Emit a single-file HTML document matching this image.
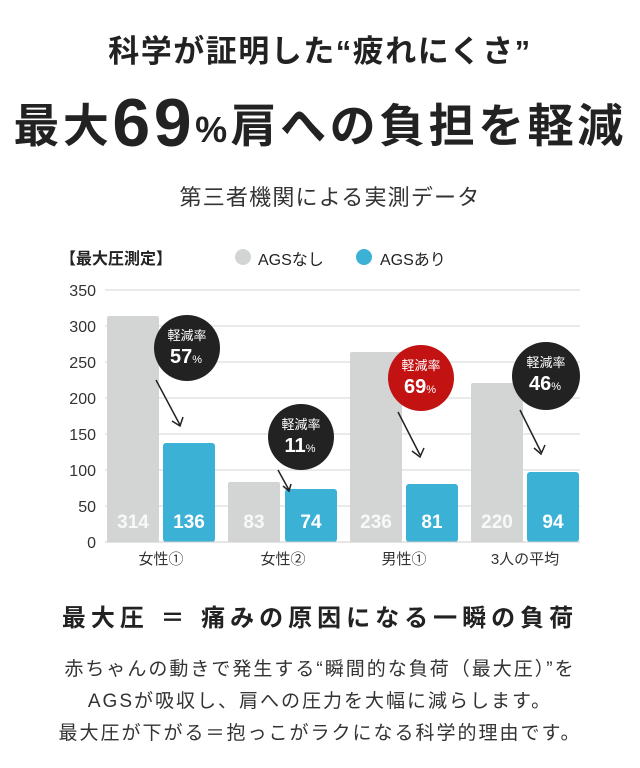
<!DOCTYPE html>
<html><head><meta charset="utf-8"><style>
body{margin:0;background:#fff;width:640px;height:768px;overflow:hidden;font-family:"Liberation Sans","Noto Sans CJK JP",sans-serif;color:#222}
.a{position:absolute;white-space:nowrap}
</style></head><body>
<div class="a" style="left:0;width:640px;top:26px;text-align:center;font-size:31px;font-weight:bold;letter-spacing:1.5px">科学が証明した“疲れにくさ”</div>
<div class="a" style="left:0;width:640px;top:80px;text-align:center;font-size:46px;font-weight:bold;letter-spacing:3.5px">最大<span style="font-size:68px;position:relative;top:4px">69</span><span style="font-size:36px">%</span>肩への負担を軽減</div>
<div class="a" style="left:10px;width:640px;top:180px;text-align:center;font-size:22px;color:#333;letter-spacing:1.2px">第三者機関による実測データ</div>
<div class="a" style="left:60px;top:245px;font-size:16px;font-weight:bold">【最大圧測定】</div>
<div class="a" style="left:235px;top:249px;width:16px;height:16px;border-radius:50%;background:#d3d5d5"></div>
<div class="a" style="left:258px;top:246px;font-size:16px">AGSなし</div>
<div class="a" style="left:356px;top:249px;width:16px;height:16px;border-radius:50%;background:#3bb1d6"></div>
<div class="a" style="left:380px;top:246px;font-size:16px">AGSあり</div>
<svg class="a" style="left:0;top:0" width="640" height="768">
<g stroke="#e4e4e4" stroke-width="1.5">
<line x1="105" y1="290" x2="580" y2="290"/><line x1="105" y1="326" x2="580" y2="326"/><line x1="105" y1="362" x2="580" y2="362"/><line x1="105" y1="398" x2="580" y2="398"/><line x1="105" y1="434" x2="580" y2="434"/><line x1="105" y1="470" x2="580" y2="470"/><line x1="105" y1="506" x2="580" y2="506"/></g>
<g font-size="16" fill="#333" text-anchor="end" font-family="Liberation Sans,sans-serif">
<text x="96" y="296">350</text><text x="96" y="332">300</text><text x="96" y="368">250</text><text x="96" y="404">200</text><text x="96" y="440">150</text><text x="96" y="476">100</text><text x="96" y="512">50</text><text x="96" y="548">0</text></g>
<g fill="#d3d5d5"><rect x="107" y="316" width="52" height="226" rx="2"/><rect x="228" y="482" width="52" height="60" rx="2"/><rect x="350" y="352" width="52" height="190" rx="2"/><rect x="471" y="383" width="52" height="159" rx="2"/></g>
<g fill="#3bb1d6"><rect x="163" y="443" width="52" height="99" rx="3"/><rect x="285" y="489" width="52" height="53" rx="3"/><rect x="406" y="484" width="52" height="58" rx="3"/><rect x="527" y="472" width="52" height="70" rx="3"/></g>
<line x1="105" y1="542" x2="580" y2="542" stroke="#ccc"/>
<g font-size="19" font-weight="bold" fill="#fff" text-anchor="middle" font-family="Liberation Sans,sans-serif">
<text x="133" y="528" opacity=".85">314</text><text x="189" y="528">136</text><text x="254" y="528" opacity=".85">83</text><text x="311" y="528">74</text><text x="376" y="528" opacity=".85">236</text><text x="432" y="528">81</text><text x="497" y="528" opacity=".85">220</text><text x="553" y="528">94</text></g>
<g font-size="15" fill="#333" text-anchor="middle">
<text x="161" y="564">女性①</text><text x="283" y="564">女性②</text><text x="404" y="564">男性①</text><text x="525" y="564">3人の平均</text></g>
<g stroke="#222" stroke-width="1.5" fill="none">
<path d="M156 380 L180 425 M172 421 L180 426 L183 417"/>
<path d="M278 470 L289 490 M283 486 L289 491 L291 484"/>
<path d="M398 412 L420 455 M412 451 L420 457 L424 448"/>
<path d="M520 410 L541 452 M534 448 L541 454 L545 445"/></g>
<circle cx="187" cy="348" r="33" fill="#222"/><circle cx="301" cy="437" r="33" fill="#222"/><circle cx="421" cy="378" r="33" fill="#c21212"/><circle cx="546" cy="376" r="34" fill="#222"/>
<g fill="#fff" text-anchor="middle">
<text x="187" y="340" font-size="13">軽減率</text><text x="186" y="363" font-size="20" font-weight="bold">57<tspan font-size="11" font-weight="normal">%</tspan></text>
<text x="301" y="429" font-size="13">軽減率</text><text x="300" y="452" font-size="20" font-weight="bold">11<tspan font-size="11" font-weight="normal">%</tspan></text>
<text x="421" y="370" font-size="13">軽減率</text><text x="420" y="393" font-size="20" font-weight="bold">69<tspan font-size="11" font-weight="normal">%</tspan></text>
<text x="546" y="367" font-size="13">軽減率</text><text x="545" y="390" font-size="20" font-weight="bold">46<tspan font-size="11" font-weight="normal">%</tspan></text></g>
</svg>
<div class="a" style="left:0;width:640px;top:598px;text-align:center;font-size:24px;font-weight:bold;letter-spacing:5px">最大圧 ＝ 痛みの原因になる一瞬の負荷</div>
<div class="a" style="left:0;width:640px;top:654px;text-align:center;font-size:19px;line-height:32px;color:#333;letter-spacing:2px">赤ちゃんの動きで発生する“瞬間的な負荷（最大圧）”を<br>AGSが吸収し、肩への圧力を大幅に減らします。<br>最大圧が下がる＝抱っこがラクになる科学的理由です。</div>
</body></html>
